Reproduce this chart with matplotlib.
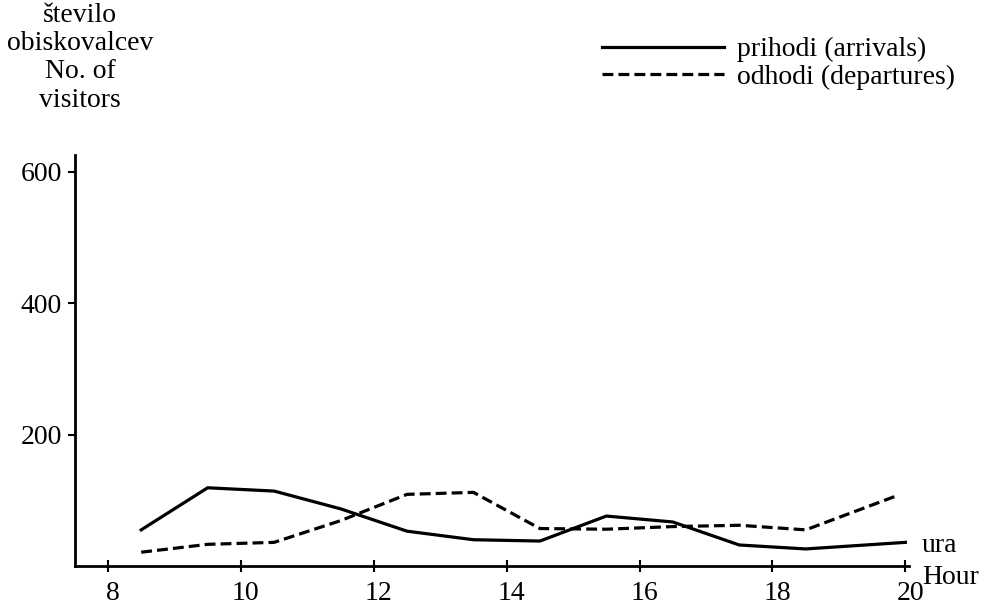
import matplotlib.pyplot as plt
from matplotlib.transforms import ScaledTranslation

plt.rcParams['font.family'] = ['Liberation Serif', 'DejaVu Serif']

# hours at which counts were read
hours_arr = [8.5, 9.5, 10.5, 11.5, 12.5, 13.5, 14.5, 15.5, 16.5, 17.5, 18.5, 20]
arrivals = [55, 119, 114, 87, 53, 40, 38, 76, 67, 32, 26, 36]

hours_dep = [8.5, 9.5, 10.5, 11.5, 12.5, 13.5, 14.5, 15.5, 16.5, 17.5, 18.5, 19.9]
departures = [21, 33, 36, 69, 109, 112, 57, 56, 60, 62, 55, 108]

xticks = [8, 10, 12, 14, 16, 18, 20]
yticks = [200, 400, 600]

fs = 20

fig = plt.figure(figsize=(9.94, 6.07), dpi=100)
ax = fig.add_axes([0.0752, 0.0675, 0.839, 0.677])

ax.plot(hours_arr, arrivals, color='black', lw=2.3, label='prihodi (arrivals)')
ax.plot(hours_dep, departures, color='black', lw=2.3, dashes=(3.4, 1.6),
        label='odhodi (departures)')

ax.set_xlim(7.5, 20.05)
ax.set_ylim(0, 625)
ax.set_xticks(xticks)
ax.set_yticks(yticks)
ax.tick_params(axis='x', direction='inout', length=9, width=1.5, labelsize=fs, pad=6)
ax.tick_params(axis='y', direction='out', length=5, width=1.5, labelsize=fs, pad=4)
shift = ScaledTranslation(5 / 100, 0, fig.dpi_scale_trans)
for lab in ax.get_xticklabels():
    lab.set_transform(lab.get_transform() + shift)
ax.spines['top'].set_visible(False)
ax.spines['right'].set_visible(False)
ax.spines['left'].set_linewidth(2)
ax.spines['bottom'].set_linewidth(2)

fig.text(80 / 994, 1 - 3 / 607, 'število\nobiskovalcev\nNo. of\nvisitors',
         ha='center', va='top', fontsize=fs, linespacing=1.17)
fig.text(922 / 994, 1 - 545 / 607, 'ura', ha='left', va='center', fontsize=fs)
fig.text(922 / 994, 1 - 577 / 607, 'Hour', ha='left', va='center', fontsize=fs)

ax.legend(loc='upper left', bbox_to_anchor=(602 / 994, 1 - 37 / 607),
          bbox_transform=fig.transFigure, frameon=False, fontsize=fs,
          handlelength=4.4, handletextpad=0.47, labelspacing=0.08,
          borderpad=0, borderaxespad=0)

fig.savefig('out.png', dpi=100)
